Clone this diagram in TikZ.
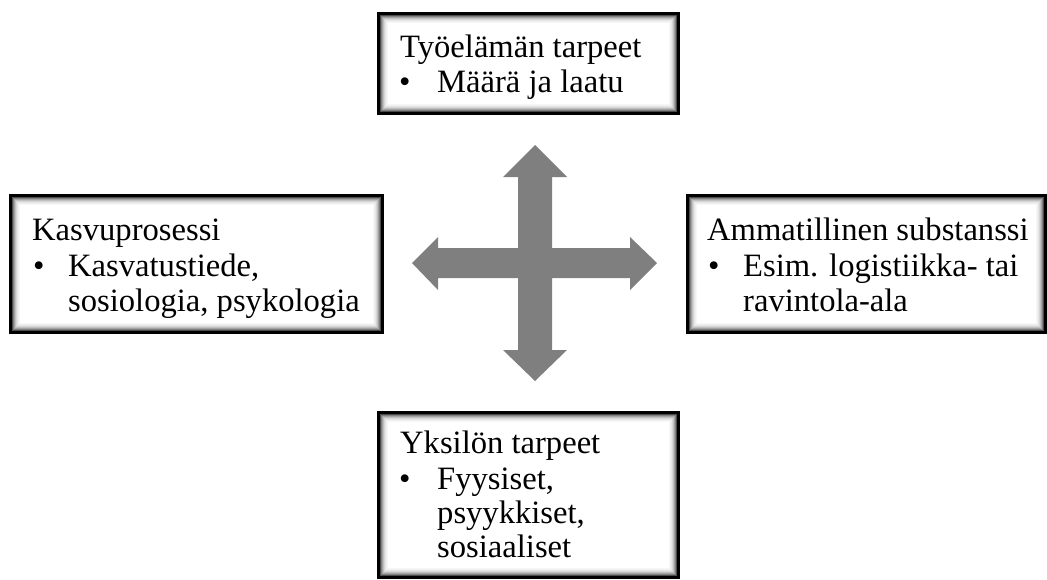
\documentclass[tikz,border=0pt]{standalone}
\usepackage{fontspec}
\setmainfont{Liberation Serif}
\begin{document}
\begin{tikzpicture}[x=1pt,y=-1pt,
  box/.style={draw=black, line width=3pt, rectangle, inner sep=0pt, outer sep=0pt, fill=white},
  txt/.style={anchor=base west, inner sep=0pt, font=\fontsize{32.6}{35}\selectfont},
  crossfill/.style={fill=crossgray, draw=none}]
\definecolor{crossgray}{HTML}{7F7F7F}
\useasboundingbox (0,0) rectangle (1047,579);
% boxes: name / x1 / y1 / x2 / y2
\foreach \n/\xa/\ya/\xb/\yb in {top/378/13/678/113, left/10/195/382/332, right/687/195/1045/332, bottom/378/412/678/577}{
  \node[box, minimum width={\xb-\xa}, minimum height={\yb-\ya}] (\n) at ({(\xa+\xb)/2},{(\ya+\yb)/2}) {};
  \foreach \i/\c in {0/70,1/50,2/36,3/25,4/16,5/10,6/6,7/3}{
    \draw[black!\c, line width=1pt] ([shift={(2+\i,2+\i)}]\n.north west) rectangle ([shift={(-2-\i,-2-\i)}]\n.south east);
  }
  \draw[line width=3pt] (\n.north west) rectangle (\n.south east);
}
% texts
\node[txt] (t1) at (400,57) {Työelämän tarpeet};
\node[txt] (t2) at (399,92) {•};
\node[txt] (t3) at (437,92) {Määrä ja laatu};
\node[txt] (l1) at (32,240) {Kasvuprosessi};
\node[txt] (l2) at (33,276) {•};
\node[txt] (l3) at (68,276) {Kasvatustiede,};
\node[txt] (l4) at (68,311) {sosiologia, psykologia};
\node[txt] (r1) at (707,240) {Ammatillinen substanssi};
\node[txt] (r2) at (708,276) {•};
\node[txt] (r3) at (743,276) {Esim. logistiikka- tai};
\node[txt] (r4) at (743,311) {ravintola-ala};
\node[txt] (b1) at (400,453) {Yksilön tarpeet};
\node[txt] (b2) at (399,489) {•};
\node[txt] (b3) at (437,489) {Fyysiset,};
\node[txt] (b4) at (437,523) {psyykkiset,};
\node[txt] (b5) at (437,557) {sosiaaliset};
% four-way arrow
\fill[crossfill] (535,145) -- (567,177) -- (552,177) -- (552,248) -- (630,248) -- (630,237) -- (657,263) -- (630,290) -- (630,278) -- (552,278) -- (552,350) -- (567,350) -- (535,381) -- (503,350) -- (518,350) -- (518,278) -- (438,278) -- (438,290) -- (412,263) -- (438,237) -- (438,248) -- (518,248) -- (518,177) -- (503,177) -- cycle;
\end{tikzpicture}
\end{document}
